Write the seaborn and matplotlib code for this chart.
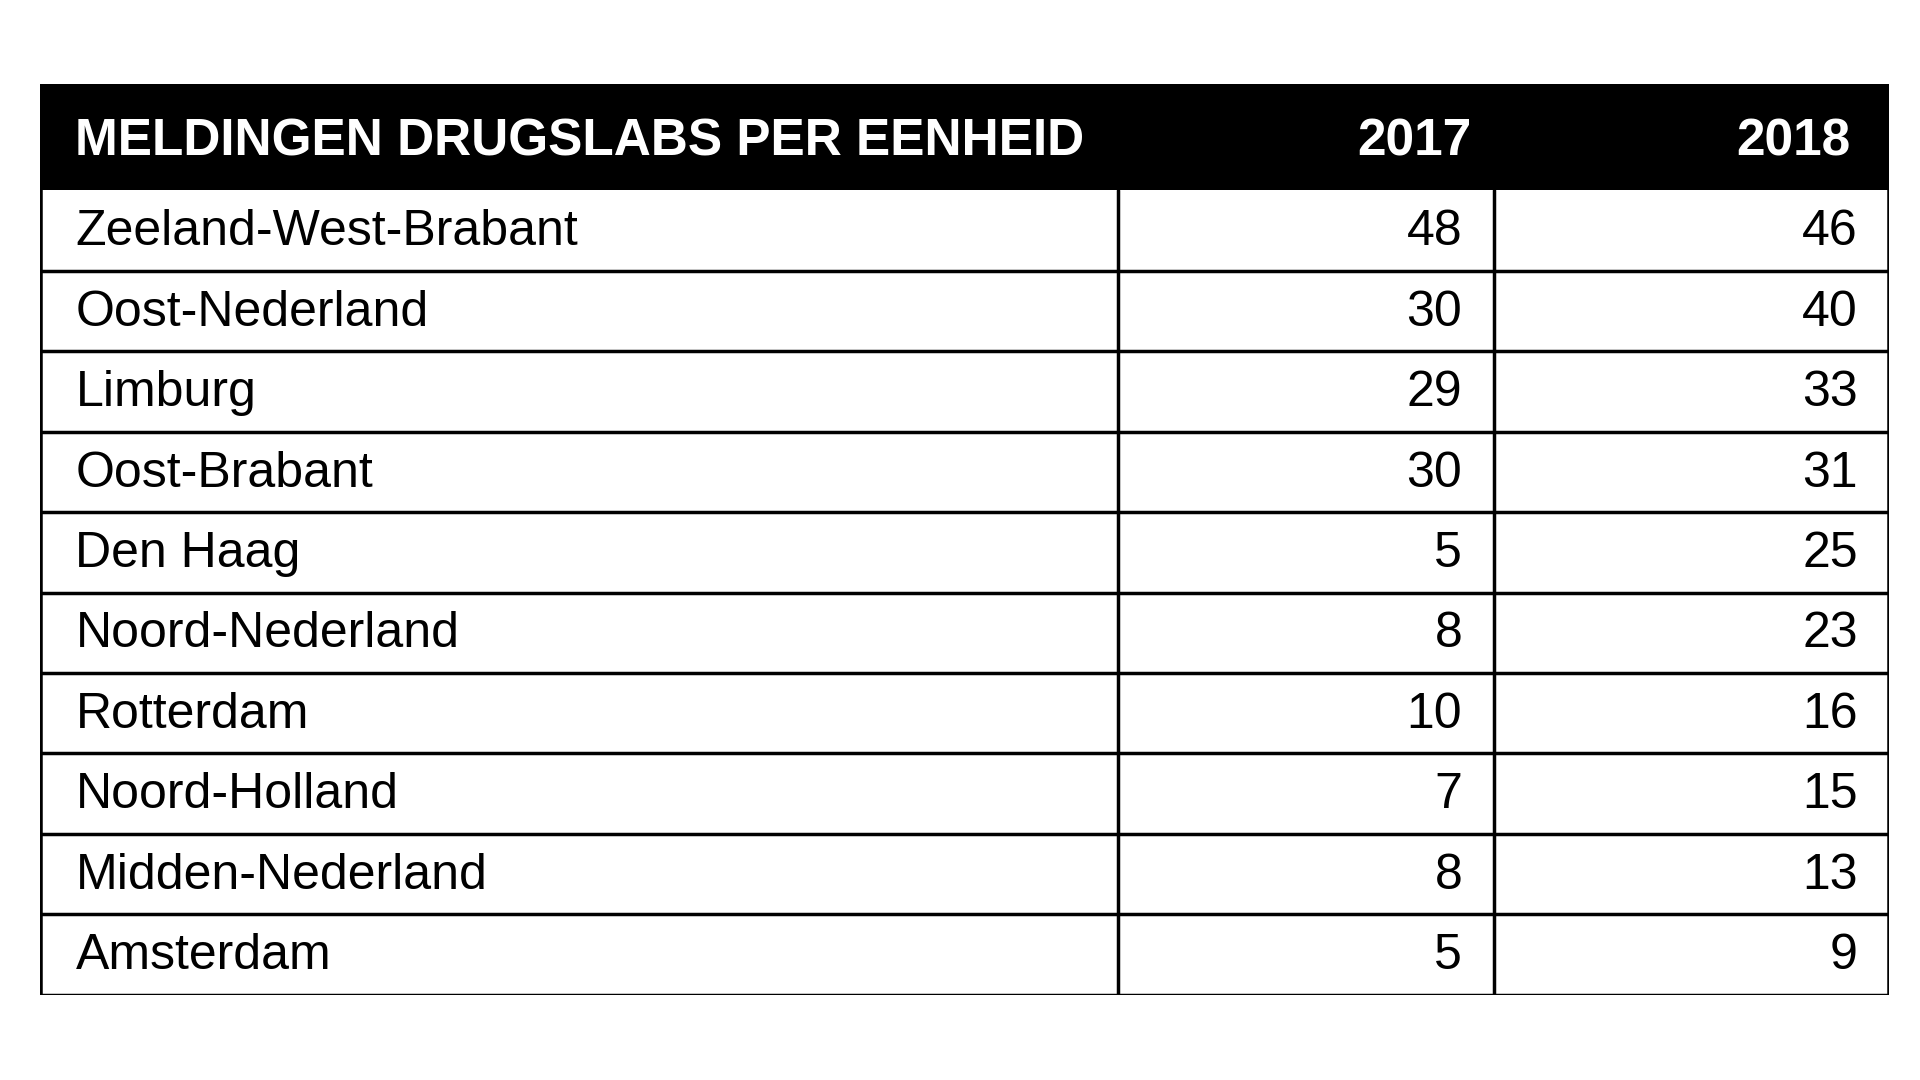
import matplotlib
matplotlib.use("Agg")
import matplotlib.pyplot as plt
import seaborn as sns
import pandas as pd

title = "MELDINGEN DRUGSLABS PER EENHEID"
years = ["2017", "2018"]
regions = ["Zeeland-West-Brabant", "Oost-Nederland", "Limburg", "Oost-Brabant",
           "Den Haag", "Noord-Nederland", "Rotterdam", "Noord-Holland",
           "Midden-Nederland", "Amsterdam"]
v2017 = [48, 30, 29, 30, 5, 8, 10, 7, 8, 5]
v2018 = [46, 40, 33, 31, 25, 23, 16, 15, 13, 9]

df = pd.DataFrame({"region": regions, "2017": v2017, "2018": v2018})

sns.set_theme(style="white", rc={"font.family": "Liberation Sans"})
fig = plt.figure(figsize=(19.2, 10.8), dpi=100)
ax = fig.add_axes([0.021, 0.079, 0.963, 0.843])
H = 1.32
n = len(df)
ax.set_xlim(0, 1)
ax.set_ylim(H + n, 0)
ax.axis("off")

c1, c2 = 0.583, 0.786
fs_h, fs = 37, 36
ax.fill_between([0, 1], 0, H, color="black", lw=0)
ax.text(0.019, H / 2 + 0.06, title, color="white", fontsize=fs_h, fontweight="bold", va="center", ha="left")
ax.text(c2 - 0.012, H / 2 + 0.06, years[0], color="white", fontsize=fs_h, fontweight="bold", va="center", ha="right")
ax.text(0.979, H / 2 + 0.06, years[1], color="white", fontsize=fs_h, fontweight="bold", va="center", ha="right")

lw = 2.5
for i, row in df.iterrows():
    y = H + i + 0.52
    ax.text(0.019, y, row["region"], fontsize=fs, va="center", ha="left", color="black")
    ax.text(c2 - 0.017, y, str(row["2017"]), fontsize=fs, va="center", ha="right", color="black")
    ax.text(0.983, y, str(row["2018"]), fontsize=fs, va="center", ha="right", color="black")
    ax.plot([0, 1], [H + i + 1, H + i + 1], color="black", lw=lw)
for x in (c1, c2):
    ax.plot([x, x], [H, H + n], color="black", lw=lw)
ax.plot([0, 0], [0, H + n], color="black", lw=lw * 1.3)
ax.plot([1, 1], [0, H + n], color="black", lw=lw * 1.3)
ax.plot([0, 1], [0, 0], color="black", lw=lw)

fig.savefig("out.png", dpi=100, facecolor="white")
